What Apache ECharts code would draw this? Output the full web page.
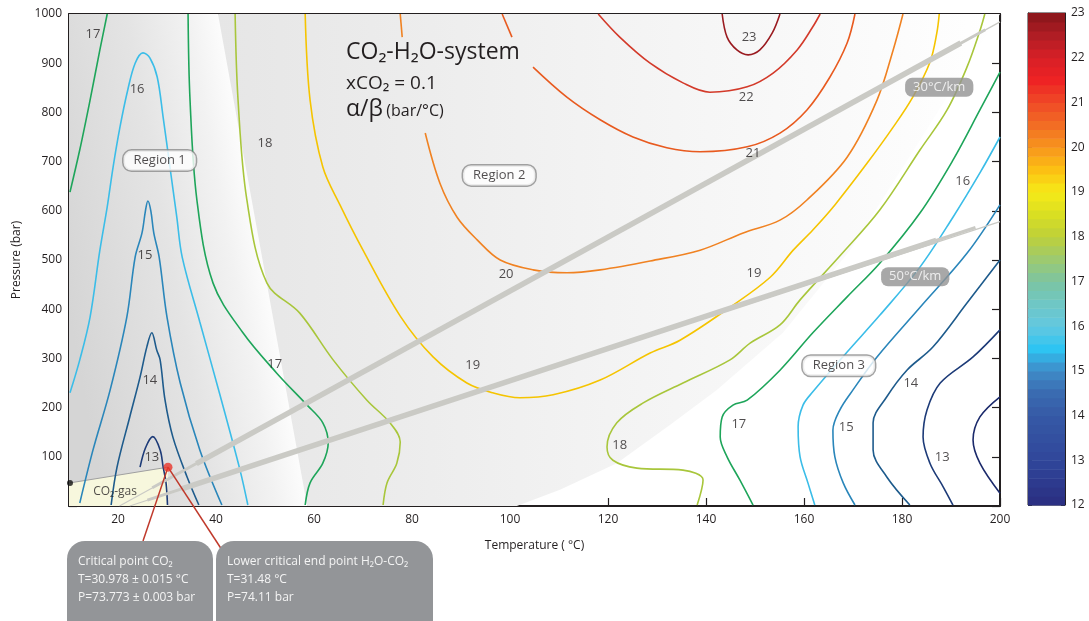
<!DOCTYPE html>
<html>
<head>
<meta charset="utf-8">
<script src="https://cdn.jsdelivr.net/npm/echarts@6/dist/echarts.min.js"></script>
<style>
  html, body { margin: 0; padding: 0; background: #fff; }
  #main { width: 1089px; height: 621px; }
</style>
</head>
<body>
<div id="main"></div>
<script>
// ---- data: contour lines of alpha/beta, points are [T (°C), P (bar)] ----
// region 1 (left)
const c17a = [[10.2,638],[12.2,724],[14.3,825],[16.3,927],[17.8,1000]];
const c16a = [[10.2,230],[12.2,297],[14.3,384],[16.3,520],[17.8,608],[19,689],[20.4,770],[22,846],[23.5,900],[25.1,921],[26.5,911],[28,872],[29.2,791],[30.6,689],[32,587],[33.1,506],[36.7,374],[40.8,226],[44.9,73],[46.5,2]];
const c15a = [[12.2,6],[14.9,114],[18.4,236],[21.8,384],[23.5,506],[24.9,555],[25.6,600],[26.1,620],[26.7,600],[27.3,555],[28.4,506],[30,384],[32.7,250],[36.7,114],[41.2,2]];
const c14a = [[18.6,2],[19.8,79],[22.4,181],[24.5,262],[25.9,324],[26.9,352],[27.9,317],[28.6,297],[29.6,215],[31.2,140],[34.1,59],[36.5,2]];
const c13a = [[24.5,79],[25.6,118],[27.1,141],[28.6,114],[29.2,80],[29.8,47],[30.1,2]];
const c17b = [[34.3,1000],[34.7,825],[36.1,622],[39.4,453],[45.5,352],[52.4,270],[58.6,205],[61.8,169],[62.9,128],[61.8,87],[59.2,47],[58.2,2]];
const c18a = [[43.9,1000],[44.5,825],[46.3,622],[50.4,453],[57.1,392],[63.9,297],[70.8,215],[75.5,169],[77.6,130],[76.9,87],[74.9,47],[74.1,2]];
// region 2 (middle / top)
const c19 = [[58.2,1000],[59.2,825],[61.8,689],[65.3,612],[70,520],[77.6,386],[84.3,303],[91.2,250],[96.5,230],[102,220],[108.8,226],[118.4,256],[128.6,311],[134.7,337],[144.9,404],[153.1,465],[157.8,520],[161.8,561],[166.3,612],[172.9,697],[178.2,770],[182.2,831],[185.7,902],[187.1,961],[187.6,1000]];
const c20a = [[77.6,1000],[78,953]];
const c20b = [[82.7,758],[85.7,656],[89.2,587],[93.3,541],[98,500],[104.7,480],[111.6,474],[118.4,480],[128.6,498],[138.8,520],[147.6,555],[155.1,581],[160.6,622],[168.8,709],[174.9,825],[178.2,927],[180.2,1000]];
const c21a = [[98.4,1000],[100.4,953]];
const c21b = [[104.7,892],[111.6,831],[118.4,785],[125.1,750],[132,728],[138.8,720],[148.4,730],[155.1,758],[160.6,805],[165.3,872],[168.8,941],[170.4,1000]];
const c22 = [[118,1000],[122.4,953],[128.6,900],[135.3,860],[140.8,841],[148.4,852],[153.7,880],[158.6,927],[161.8,974],[163.3,1000]];
const c23 = [[143.3,1000],[144.3,953],[146.3,927],[148.6,917],[151,927],[153.5,961],[155.1,1000]];
// region 3 (right)
const c18b = [[196.9,1000],[195.9,966],[193.3,893],[189.2,805],[183.7,724],[175.5,602],[167.3,508],[159.2,419],[155.1,368],[149,331],[144.9,297],[135.3,250],[127.1,209],[121.8,169],[119.8,120],[121,93],[125.9,77],[135.3,73],[139.4,53],[138.2,2]];
const c17c = [[200,882],[195.9,805],[190.4,703],[183.7,596],[175.5,494],[168.8,425],[161.8,352],[155.1,276],[148.4,215],[145.5,205],[143.3,181],[142.9,140],[144.3,100],[146.9,53],[149.6,2]];
const c16b = [[200,750],[195.9,677],[190.4,587],[183.7,486],[175.5,388],[168.8,313],[161.8,232],[159.8,205],[158.8,161],[159.2,100],[160.8,47],[162.2,2]];
const c15b = [[200,612],[193.3,514],[183.7,404],[174.9,303],[170,236],[167.3,195],[165.9,154],[166.3,100],[168,47],[170.4,2]];
const c14b = [[200,500],[193.3,413],[186.3,323],[181,276],[176.9,222],[174.1,169],[174.1,114],[176.9,59],[181.6,2]];
const c13b = [[200,358],[194.5,303],[187.8,250],[185.1,195],[184.3,140],[185.7,87],[188.4,39],[190.4,2]];
const c12b = [[200,222],[195.9,181],[194.5,134],[195.9,87],[200,26]];

// contour labels [T, P, level]
const contourLabels = [
  [14.9,959,17],[23.9,846,16],[50,738,18],[25.5,510,15],[26.5,256,14],[26.9,98,13],
  [52,289,17],[99.2,470,20],[92.4,285,19],[122.4,124,18],[148.8,953,23],[148.2,831,22],
  [149.6,717,21],[149.8,472,19],[192.4,659,16],[146.7,167,17],[168.6,159,15],
  [181.8,250,14],[188.2,100,13]
];

// geotherms [T, P]: thin full line, medium and thick middle parts
const geo30 = [[20.3,0],[200,984]];
const geo30mid = [[27,37],[197,968]];
const geo30thick = [[36,86],[192,941]];
const geo50 = [[22.4,0],[200,578]];
const geo50mid = [[26,12],[195,566]];
const geo50thick = [[33,35],[187,540]];

// shaded regions and the CO2-gas field [T, P]
const region1 = [[10,0],[10,1000],[40.4,1000],[58.6,0]];
const region2 = [[40.4,1000],[58.6,0],[101.4,0],[110.2,33],[121.8,87],[132.7,165],[142.2,236],[155.7,352],[169.4,520],[183.7,744],[193.9,906],[200,1000]];
const gasField = [[10,0],[10,47],[30.2,79],[30.2,0]];
const gasBoundary = [[10.2,47],[30.2,79]];
const triplePoint = [[10.2,47]];
const criticalPoint = [[30.2,79]];

// annotation boxes [T, P, text]
const regionBoxes = [[28.5,702,'Region 1'],[97.8,672,'Region 2'],[167.1,285,'Region 3']];
const gradientBoxes = [[187.6,851,'30°C/km'],[182.7,466,'50°C/km']];
const gasLabel = [[19.4,30,'CO₂-gas']];

const xTicks = [20,40,60,80,100,120,140,160,180,200];
const cbarMin = 12, cbarMax = 23;

// ---- styling ----
const FONT = '"Open Sans", "Noto Sans", sans-serif';
const INK = '#231f20';
const levelColors = {
  12:'#1b2a6b', 13:'#1d3b78', 14:'#1e5b8c', 15:'#2a86ba', 16:'#3bbde8', 17:'#1ea55a',
  18:'#a8c63b', 19:'#f5c400', 20:'#f08222', 21:'#e85a1f', 22:'#d33a2a', 23:'#9a1b20'
};
const cmapStops = [
  [12,'#2a2d80'],[12.5,'#2d3a8e'],[13,'#30469a'],[13.5,'#3350a0'],[14,'#3659a6'],[14.5,'#3a6bb1'],
  [15,'#3f8bc8'],[15.5,'#2ec4f2'],[16,'#62c8e0'],[16.5,'#6fc7c5'],[17,'#7cc4a2'],[17.5,'#9dca70'],
  [18,'#bdd03a'],[18.5,'#d9df22'],[19,'#f6ea18'],[19.5,'#fcc013'],[20,'#f7951d'],[20.5,'#f26d24'],
  [21,'#ef4a26'],[21.5,'#ee2324'],[22,'#d81f27'],[22.5,'#b01d24'],[23,'#87161a']
];
function hexRgb(h) { return [1,3,5].map(i => parseInt(h.substr(i,2),16)); }
function cmap(v) {
  for (let i = 0; i < cmapStops.length - 1; i++) {
    const [a, ca] = cmapStops[i], [b, cb] = cmapStops[i+1];
    if (v >= a && v <= b) {
      const t = (v - a) / (b - a), A = hexRgb(ca), B = hexRgb(cb);
      return 'rgb(' + A.map((x, k) => Math.round(x + (B[k] - x) * t)).join(',') + ')';
    }
  }
  return cmapStops[cmapStops.length-1][1];
}
const cbarBands = [];
for (let v = cbarMin; v < cbarMax - 1e-9; v += 0.2) cbarBands.push([+v.toFixed(1), +(v + 0.2).toFixed(1)]);

const contourSegs = [
  [17,c17a],[16,c16a],[15,c15a],[14,c14a],[13,c13a],[17,c17b],[18,c18a],
  [19,c19],[20,c20a],[20,c20b],[21,c21a],[21,c21b],[22,c22],[23,c23],
  [18,c18b],[17,c17c],[16,c16b],[15,c15b],[14,c14b],[13,c13b],[12,c12b]
];

var chart = echarts.init(document.getElementById('main'));

function polySeries(pts, fillFn, z) {
  return {
    type: 'custom', xAxisIndex: 0, yAxisIndex: 0, z: z, silent: true, clip: true,
    data: [0],
    renderItem: function (params, api) {
      const points = pts.map(p => api.coord(p));
      return { type: 'polygon', shape: { points: points }, style: { fill: fillFn(api), stroke: null } };
    }
  };
}

const series = [];
// region 1: gray fading to white towards its right edge
series.push(polySeries(region1, function (api) {
  const e1 = api.coord([40.4,1000]), e2 = api.coord([58.6,0]);
  const dx = e2[0]-e1[0], dy = e2[1]-e1[1], len = Math.hypot(dx, dy);
  const nx = dy/len, ny = -dx/len; // normal pointing right
  const m = [(e1[0]+e2[0])/2, (e1[1]+e2[1])/2];
  return new echarts.graphic.LinearGradient(m[0]-200*nx, m[1]-200*ny, m[0], m[1], [
    {offset:0, color:'#d5d5d5'},{offset:0.55, color:'#e4e4e4'},{offset:0.85, color:'#f2f2f2'},{offset:1, color:'#fcfcfc'}
  ], true);
}, 1));
// region 2
series.push(polySeries(region2, function (api) {
  const a = api.coord([40.4,1000]), b = api.coord([200,0]);
  return new echarts.graphic.LinearGradient(a[0], 0, b[0], 0, [
    {offset:0, color:'#e6e6e6'},{offset:0.12, color:'#e9e9e9'},{offset:0.5, color:'#f3f3f3'},{offset:0.8, color:'#fafafa'},{offset:1, color:'#ffffff'}
  ], true);
}, 1));
// CO2 gas field
series.push(polySeries(gasField, function () { return '#f7f7dd'; }, 2));
series.push({
  type: 'line', data: gasBoundary, z: 2, silent: true, symbol: 'none',
  lineStyle: { color: '#a0a0a0', width: 1 }
});

// contour lines
contourSegs.forEach(function (seg) {
  series.push({
    type: 'line', data: seg[1], smooth: 0.35, symbol: 'none', z: 3, silent: true,
    lineStyle: { color: levelColors[seg[0]], width: 1.6 }
  });
});

// geotherms
[[geo30, 1.2], [geo50, 1.2], [geo30mid, 3], [geo50mid, 3], [geo30thick, 5.5], [geo50thick, 5.5]].forEach(function (g) {
  series.push({
    type: 'line', data: g[0], symbol: 'none', z: 4, silent: true,
    lineStyle: { color: '#cacac5', width: g[1], cap: 'butt' }
  });
});

// contour labels
series.push({
  type: 'scatter', data: contourLabels, symbolSize: 0, z: 6, silent: true,
  label: { show: true, position: 'inside', formatter: p => p.value[2], color: INK, fontSize: 13, fontFamily: FONT }
});
// region boxes
series.push({
  type: 'scatter', data: regionBoxes, symbolSize: 0, z: 7, silent: true,
  label: {
    show: true, position: 'inside', formatter: p => p.value[2], color: INK, fontSize: 13, fontFamily: FONT,
    backgroundColor: '#ffffff', borderColor: '#8c8c8c', borderWidth: 1.5, borderRadius: 8, padding: [4, 10, 3, 10]
  }
});
// geotherm boxes
series.push({
  type: 'scatter', data: gradientBoxes, symbolSize: 0, z: 7, silent: true,
  label: {
    show: true, position: 'inside', formatter: p => p.value[2], color: '#ffffff', fontSize: 13, fontFamily: FONT,
    backgroundColor: '#929292', borderRadius: 7, padding: [3, 8, 3, 8]
  }
});
series.push({
  type: 'scatter', data: gasLabel, symbolSize: 0, z: 6, silent: true,
  label: { show: true, position: 'inside', formatter: p => p.value[2], color: INK, fontSize: 12, fontFamily: FONT }
});
// points
series.push({ type: 'scatter', data: triplePoint, symbolSize: 6, z: 9, silent: true, itemStyle: { color: '#111' } });
series.push({ type: 'scatter', data: criticalPoint, symbolSize: 9, z: 9, silent: true, itemStyle: { color: '#e8352a' } });

// colour bar
series.push({
  type: 'custom', xAxisIndex: 2, yAxisIndex: 2, data: cbarBands, silent: true, z: 2,
  renderItem: function (params, api) {
    const lo = api.value(0), hi = api.value(1);
    const p1 = api.coord([0, hi]), p2 = api.coord([1, lo]);
    return { type: 'rect', shape: { x: p1[0], y: p1[1], width: p2[0]-p1[0], height: p2[1]-p1[1] + 0.6 },
             style: { fill: cmap((lo + hi) / 2) } };
  }
});

const axisLineStyle = { color: INK, width: 2 };
const tickStyle = { color: INK, width: 1.2 };

chart.setOption({
  animation: false,
  backgroundColor: '#ffffff',
  grid: [
    { left: 69, right: 89, top: 14, bottom: 115, show: false },
    { left: 1028, width: 37, top: 13, height: 492, show: true, borderColor: INK, borderWidth: 1, backgroundColor: 'transparent' }
  ],
  xAxis: [
    { gridIndex: 0, type: 'value', min: 10, max: 200, position: 'bottom',
      axisLine: { show: true, onZero: false, lineStyle: axisLineStyle },
      axisTick: { show: true, inside: true, length: 8, lineStyle: tickStyle, customValues: xTicks },
      axisLabel: { customValues: xTicks, color: INK, fontSize: 12, fontFamily: FONT, margin: 8 },
      splitLine: { show: false },
      name: 'Temperature ( °C)', nameLocation: 'middle', nameGap: 34,
      nameTextStyle: { color: INK, fontSize: 12, fontFamily: FONT } },
    { gridIndex: 0, type: 'value', min: 10, max: 200, position: 'top',
      axisLine: { show: true, onZero: false, lineStyle: axisLineStyle },
      axisTick: { show: true, inside: true, length: 8, lineStyle: tickStyle, customValues: xTicks },
      axisLabel: { show: false }, splitLine: { show: false } },
    { gridIndex: 1, type: 'value', min: 0, max: 1, show: false }
  ],
  yAxis: [
    { gridIndex: 0, type: 'value', min: 0, max: 1000, interval: 100, position: 'left',
      axisLine: { show: true, onZero: false, lineStyle: axisLineStyle },
      axisTick: { show: true, inside: true, length: 8, lineStyle: tickStyle },
      axisLabel: { color: INK, fontSize: 12, fontFamily: FONT, margin: 7, formatter: v => v === 0 ? '' : v },
      splitLine: { show: false },
      name: 'Pressure (bar)', nameLocation: 'middle', nameGap: 46,
      nameTextStyle: { color: INK, fontSize: 12, fontFamily: FONT } },
    { gridIndex: 0, type: 'value', min: 0, max: 1000, interval: 100, position: 'right',
      axisLine: { show: true, onZero: false, lineStyle: axisLineStyle },
      axisTick: { show: true, inside: true, length: 8, lineStyle: tickStyle },
      axisLabel: { show: false }, splitLine: { show: false } },
    { gridIndex: 1, type: 'value', min: cbarMin, max: cbarMax, interval: 1, position: 'right',
      axisLine: { show: true, onZero: false, lineStyle: { color: INK, width: 1 } },
      axisTick: { show: true, inside: true, length: 4, lineStyle: { color: '#333', width: 1 } },
      axisLabel: { color: INK, fontSize: 12, fontFamily: FONT, margin: 6 },
      splitLine: { show: false } },
    { gridIndex: 1, type: 'value', min: cbarMin, max: cbarMax, interval: 1, position: 'left',
      axisLine: { show: true, onZero: false, lineStyle: { color: INK, width: 1 } },
      axisTick: { show: true, inside: true, length: 4, lineStyle: { color: '#333', width: 1 } },
      axisLabel: { show: false }, splitLine: { show: false } }
  ],
  series: series
});

// ---- text annotations ----
const cp = chart.convertToPixel({ xAxisIndex: 0, yAxisIndex: 0 }, criticalPoint[0]);
chart.setOption({
  graphic: [
    { type: 'text', left: 346, top: 41, z: 20, silent: true,
      style: { text: 'CO₂-H₂O-system', fontSize: 23, fontFamily: FONT, fill: INK } },
    { type: 'text', left: 346, top: 74, z: 20, silent: true,
      style: { text: 'xCO₂ = 0.1', fontSize: 19, fontFamily: FONT, fill: INK } },
    { type: 'text', left: 346, top: 98, z: 20, silent: true,
      style: { text: '{a|α/β} {b|(bar/°C)}', fill: INK,
        rich: { a: { fontSize: 23, fontFamily: FONT, fill: INK }, b: { fontSize: 16, fontFamily: FONT, fill: INK, padding: [3, 0, 0, 0] } } } },
    { type: 'line', z: 5, silent: true, shape: { x1: cp[0], y1: cp[1], x2: 143, y2: 541 }, style: { stroke: '#c0392b', lineWidth: 1.5 } },
    { type: 'line', z: 5, silent: true, shape: { x1: cp[0], y1: cp[1], x2: 222, y2: 550 }, style: { stroke: '#c0392b', lineWidth: 1.5 } },
    { type: 'rect', z: 6, silent: true, shape: { x: 67, y: 541, width: 146, height: 100, r: 18 }, style: { fill: '#939598' } },
    { type: 'rect', z: 6, silent: true, shape: { x: 216, y: 541, width: 217, height: 100, r: 18 }, style: { fill: '#939598' } },
    { type: 'text', z: 7, silent: true, x: 78, y: 553,
      style: { text: 'Critical point CO₂\nT=30.978 ± 0.015 °C\nP=73.773 ± 0.003 bar', fontSize: 12, lineHeight: 18, fontFamily: FONT, fill: '#f4f4f4' } },
    { type: 'text', z: 7, silent: true, x: 227, y: 553,
      style: { text: 'Lower critical end point H₂O-CO₂\nT=31.48 °C\nP=74.11 bar', fontSize: 12, lineHeight: 18, fontFamily: FONT, fill: '#f4f4f4' } }
  ]
});
</script>
</body>
</html>
